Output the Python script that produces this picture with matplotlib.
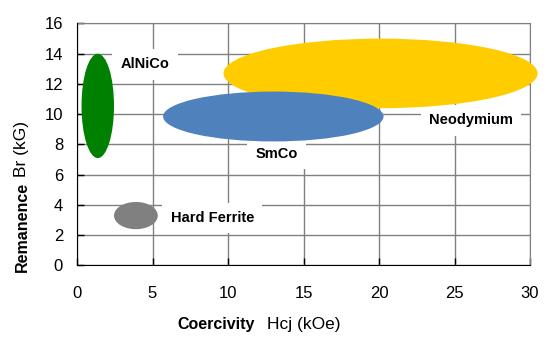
import matplotlib.pyplot as plt
from matplotlib.patches import Ellipse

plt.rcParams['font.family'] = ['Liberation Sans', 'DejaVu Sans']

# magnet families: coercivity range (kOe) and remanence range (kG)
materials = ['AlNiCo', 'Neodymium', 'SmCo', 'Hard Ferrite']
hc_min = [0.3, 9.7, 5.7, 2.45]
hc_max = [2.45, 30.5, 20.3, 5.35]
br_min = [7.1, 10.4, 8.2, 2.4]
br_max = [14.0, 15.0, 11.5, 4.2]
colors = ['#008000', '#FFCC00', '#4F81BD', '#808080']

# label anchor points (left edge, vertical centre)
label_x = [2.9, 23.3, 11.8, 6.2]
label_y = [13.3, 9.6, 7.4, 3.15]

fig = plt.figure(figsize=(5.52, 3.46), dpi=100)
ax = fig.add_axes([0.1395, 0.2327, 0.8207, 0.6994])

for name, x0, x1, y0, y1, c in zip(materials, hc_min, hc_max, br_min, br_max, colors):
    e = Ellipse(((x0 + x1) / 2, (y0 + y1) / 2), x1 - x0, y1 - y0,
                facecolor=c, edgecolor='none', zorder=3)
    e.set_clip_on(False)
    ax.add_patch(e)

# white boxes behind labels break the grid lines but stay under the ellipses
for name, lx, ly in zip(materials, label_x, label_y):
    ax.text(lx, ly, name, fontsize=10.5, fontweight='bold', ha='left', va='center',
            zorder=2, bbox=dict(facecolor='white', edgecolor='none', pad=6))

ax.set_xlim(0, 30)
ax.set_ylim(0, 16)
ax.set_xticks(range(0, 31, 5))
ax.set_yticks(range(0, 17, 2))
ax.grid(True, color='#808080', linewidth=1)
ax.set_axisbelow(True)
ax.tick_params(direction='in', length=5, width=1, labelsize=12, colors='black')
ax.tick_params(axis='x', pad=15)
ax.tick_params(axis='y', pad=10)

for side in ['top', 'right']:
    ax.spines[side].set_color('#808080')
for side in ['bottom', 'left']:
    ax.spines[side].set_color('black')
    ax.spines[side].set_zorder(5)

# axis titles: bold name followed by regular symbol and unit
fig.text(177 / 552, 1 - 325 / 346, 'Coercivity', fontsize=11.5, fontweight='bold',
         ha='left', va='center')
fig.text(267 / 552, 1 - 325 / 346, 'Hcj (kOe)', fontsize=12.5, ha='left', va='center')
fig.text(22 / 552, 1 - 272 / 346, 'Remanence', fontsize=11.5, fontweight='bold',
         rotation=90, ha='center', va='bottom')
fig.text(22 / 552, 1 - 177 / 346, 'Br (kG)', fontsize=12.5,
         rotation=90, ha='center', va='bottom')

fig.savefig('out.png', dpi=100)
